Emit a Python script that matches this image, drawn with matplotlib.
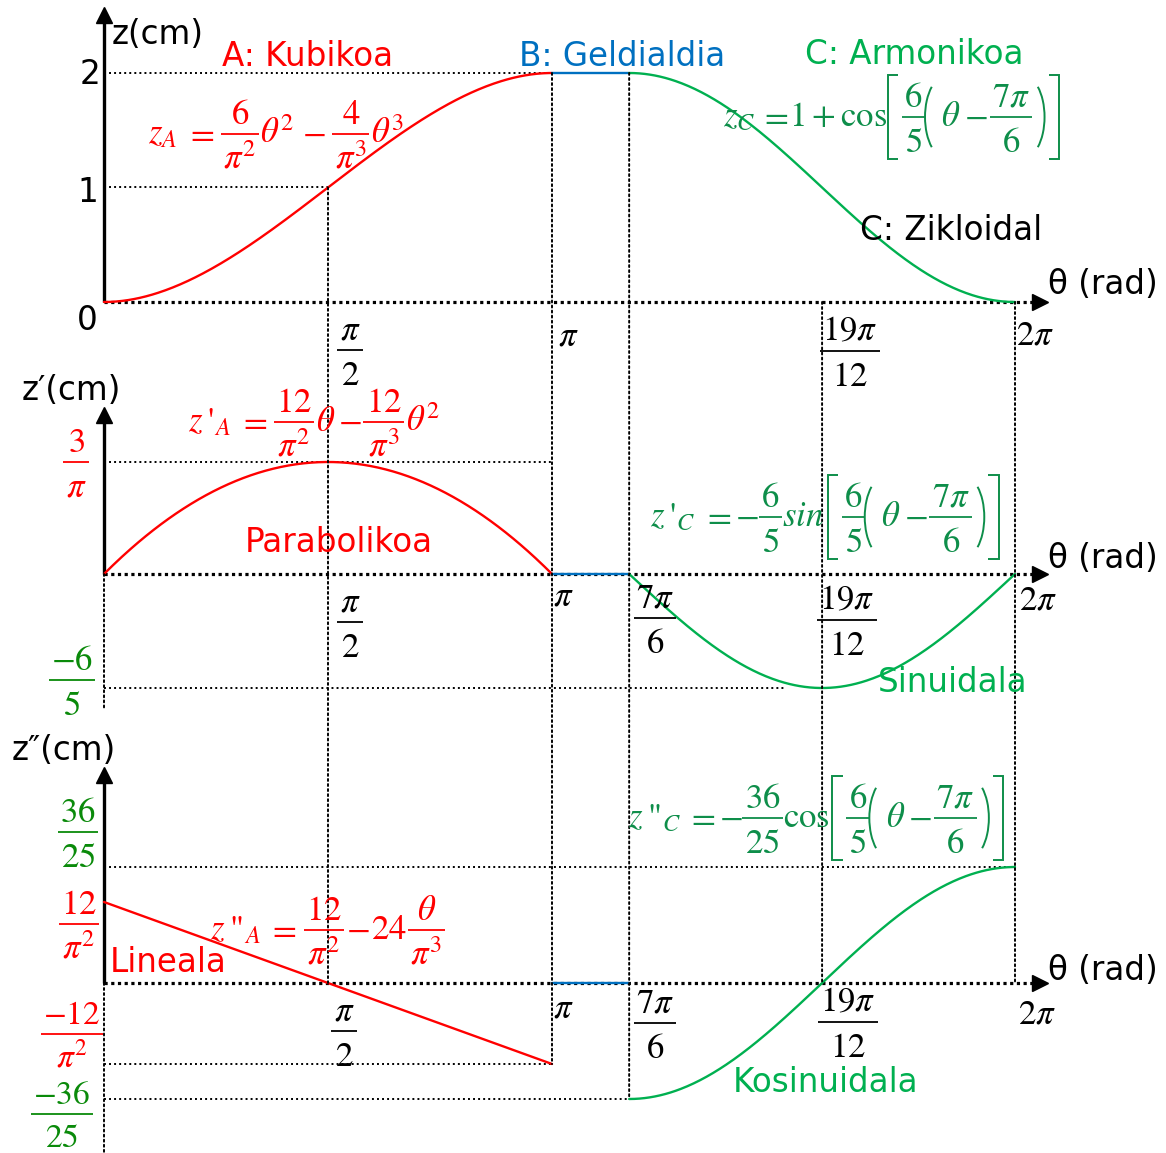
import numpy as np
import matplotlib
matplotlib.use("Agg")
import matplotlib.pyplot as plt
from matplotlib.patches import ConnectionPatch, Arc
from matplotlib.lines import Line2D
from matplotlib.transforms import IdentityTransform

plt.rcParams["font.family"] = ["DejaVu Sans"]
plt.rcParams["mathtext.fontset"] = "stix"

# ---------------------------------------------------------------- data
PI = np.pi
# cam segments (rad): A cubic rise, B dwell, C harmonic return
seg_rise = (0.0, PI)
seg_dwell = (PI, 7 * PI / 6)
seg_return = (7 * PI / 6, 2 * PI)
lift = 2.0  # cm

theta_ticks = [PI / 2, PI, 7 * PI / 6, 19 * PI / 12, 2 * PI]
z_ticks = [0, 1, 2]
zp_marks = [3 / PI, -6 / 5]
zpp_marks = [36 / 25, 12 / PI ** 2, -12 / PI ** 2, -36 / 25]


def z_A(t):
    return 6 / PI ** 2 * t ** 2 - 4 / PI ** 3 * t ** 3


def zp_A(t):
    return 12 / PI ** 2 * t - 12 / PI ** 3 * t ** 2


def zpp_A(t):
    return 12 / PI ** 2 - 24 * t / PI ** 3


def z_C(t):
    return 1 + np.cos(6 / 5 * (t - 7 * PI / 6))


def zp_C(t):
    return -6 / 5 * np.sin(6 / 5 * (t - 7 * PI / 6))


def zpp_C(t):
    return -36 / 25 * np.cos(6 / 5 * (t - 7 * PI / 6))


th_A = np.linspace(*seg_rise, 300)
th_B = np.array(seg_dwell)
th_C = np.linspace(*seg_return, 300)

# ---------------------------------------------------------------- style
RED = "#FF0000"
BLUE = "#0070C0"
GREEN = "#00B050"
GREEN_EQ = "#0E8E4A"
GREEN_TK = "#0A8A0A"
W, H = 1166, 1153
X0, X1 = 104, 1015
SANS = 23.5
MATH = 25

fig = plt.figure(figsize=(W / 100, H / 100), dpi=100)
renderer = fig.canvas.get_renderer()
IDT = IdentityTransform()


# piecewise-linear theta axis: rise part and dwell/return part
def fwd(t):
    t = np.asarray(t, float)
    return np.where(t <= PI, t * 448 / PI, 448 + (t - PI) * 463 / PI)


def inv(u):
    u = np.asarray(u, float)
    return np.where(u <= 448, u * PI / 448, PI + (u - 448) * PI / 463)


def panel(top_px, bot_px, ylim):
    ax = fig.add_axes([X0 / W, 1 - bot_px / H, (X1 - X0) / W, (bot_px - top_px) / H])
    ax.set_xscale("function", functions=(fwd, inv))
    ax.set_xlim(0, 2 * PI)
    ax.set_ylim(*ylim)
    ax.axis("off")
    return ax


def twin(ax, px_a, v_a, px_b, v_b, top_px, bot_px):
    k = (v_a - v_b) / (px_a - px_b)
    tw = ax.twinx()
    tw.set_ylim(v_a + k * (bot_px - px_a), v_a + k * (top_px - px_a))
    tw.axis("off")
    return tw


def xpx(ax, px):
    return ax.transData.inverted().transform((px, 0))[0]


def ypx(ax, py):
    return ax.transData.inverted().transform((0, H - py))[1]


# ---------------------------------------------------------------- text helpers (pixel layout)
def em(size):
    return size * 100 / 72


def put(x, y, s, color="black", size=SANS, ha="left", va="center", **kw):
    return fig.text(x / W, 1 - y / H, s, color=color, fontsize=size, ha=ha, va=va, **kw)


def wid(t):
    return t.get_window_extent(renderer).width


def seg_px(xs, ys, color, lw=1.3):
    fig.add_artist(Line2D(xs, [H - v for v in ys], transform=IDT, color=color, lw=lw,
                          solid_capstyle="butt", solid_joinstyle="miter"))


def frac(x, bar_y, num, den, color, size=MATH, center=False):
    e = em(size)
    tn = put(0, 0, f"${num}$", color, size, ha="center", va="baseline")
    td = put(0, 0, f"${den}$", color, size, ha="center", va="baseline")
    w = max(wid(tn), wid(td)) + 0.14 * e
    cx = x if center else x + w / 2
    tn.set_position((cx / W, 1 - (bar_y - 0.30 * e) / H))
    td.set_position((cx / W, 1 - (bar_y + 1.0 * e) / H))
    seg_px([cx - w / 2, cx + w / 2], [bar_y, bar_y], color)
    return w


def delim(x, bar_y, kind, color, size):
    e = em(size)
    if kind in "[]":
        h, w = 1.2 * e, 0.3 * e
        top, bot = bar_y - h, bar_y + h
        xs = [x + w, x, x, x + w] if kind == "[" else [x, x + w, x + w, x]
        seg_px(xs, [top, top, bot, bot], color, lw=1.4)
        return w + 0.1 * e
    a, b = 0.6 * e, 1.18 * e
    if kind == "(":
        xc, t1, t2 = x + a, 115, 245
    else:
        xc, t1, t2 = x - 0.42 * a, -65, 65
    fig.add_artist(Arc((xc, H - bar_y), 2 * a, 2 * b, theta1=t1, theta2=t2,
                       transform=IDT, color=color, lw=1.4))
    return 0.58 * a + 0.12 * e


def formula(x, bar_y, parts, color, size=MATH):
    e = em(size)
    cur = x
    base = bar_y + 0.26 * e
    for p in parts:
        k = p[0]
        if k == "t":
            cur += wid(put(cur, base, f"${p[1]}$", color, size, va="baseline"))
        elif k == "r":
            cur += wid(put(cur, base, p[1], color, size, va="baseline", family="STIXGeneral"))
        elif k == "f":
            cur += frac(cur, bar_y, p[1], p[2], color, size)
        elif k == "g":
            cur += p[1] * e
        else:
            cur += delim(cur, bar_y, k, color, size)


# shared tail of the return-phase formulas: [6/5 (theta - 7pi/6)]
ARG = [("[",), ("f", "6", "5"), ("(",), ("t", r"\theta"), ("g", 0.1), ("t", "-"), ("g", 0.06),
       ("f", r"7\pi", "6"), (")",), ("]",)]

DOT = dict(color="black", lw=1.4, ls=(0, (1, 1.6)), clip_on=False)
AXDOT = dict(color="black", lw=2.3, ls=(0, (1, 1.1)), clip_on=False)
CURVE = dict(lw=1.7, clip_on=False, solid_capstyle="round")


def axes_arrows(ax, tip_py):
    # vertical solid axis with arrow head, horizontal dotted theta axis
    ytop = ypx(ax, tip_py + 8)
    ax.plot([0, 0], [0, ytop], color="black", lw=2.4, clip_on=False, solid_capstyle="butt")
    ax.plot([0], [ytop], marker="^", ms=11, color="black", clip_on=False)
    ax.plot([0, xpx(ax, 1034)], [0, 0], **AXDOT)
    ax.plot([xpx(ax, 1040)], [0], marker=">", ms=11, color="black", clip_on=False)


def vline(x, axA, yA, axB, yB):
    fig.add_artist(ConnectionPatch(xyA=(x, yA), coordsA=axA.transData,
                                   xyB=(x, yB), coordsB=axB.transData,
                                   color="black", lw=1.4, ls=(0, (1, 1.6))))


# ---------------------------------------------------------------- panels
ax1 = panel(73, 302, (0, lift))
ax2 = panel(462, 574, (0, zp_marks[0]))
ax2g = twin(ax2, 574, 0, 688, zp_marks[1], 462, 574)
ax3 = panel(902, 1064, (zpp_marks[2], zpp_marks[1]))
ax3g = twin(ax3, 867, zpp_marks[0], 1099, zpp_marks[3], 902, 1064)

# guide lines
ax1.plot([0, PI], [2, 2], **DOT)
ax1.plot([0, PI / 2], [1, 1], **DOT)
ax2.plot([0, PI], [zp_marks[0]] * 2, **DOT)
ax2g.plot([0, 3 * PI / 2], [zp_marks[1]] * 2, **DOT)
ax3g.plot([0, 2 * PI], [zpp_marks[0]] * 2, **DOT)
ax3.plot([0, PI], [zpp_marks[2]] * 2, **DOT)
ax3g.plot([0, 7 * PI / 6], [zpp_marks[3]] * 2, **DOT)

vline(theta_ticks[0], ax1, 1, ax3, 0)
vline(theta_ticks[1], ax1, 2, ax3, zpp_marks[2])
vline(theta_ticks[2], ax1, 2, ax3g, zpp_marks[3])
vline(theta_ticks[3], ax1, 0, ax3, 0)
vline(theta_ticks[4], ax1, 0, ax3, 0)
vline(0, ax2, 0, ax2, ypx(ax2, 708))
vline(0, ax3, 0, ax3, ypx(ax3, 1160))

axes_arrows(ax1, 7)
axes_arrows(ax2, 407)
axes_arrows(ax3, 767)

# curves
ax1.plot(th_A, z_A(th_A), color=RED, **CURVE)
ax1.plot(th_B, [lift, lift], color=BLUE, **CURVE)
ax1.plot(th_C, z_C(th_C), color=GREEN, **CURVE)

ax2.plot(th_A, zp_A(th_A), color=RED, **CURVE)
ax2.plot(th_B, [0, 0], color=BLUE, **CURVE)
ax2g.plot(th_C, zp_C(th_C), color=GREEN, **CURVE)

ax3.plot(th_A, zpp_A(th_A), color=RED, **CURVE)
ax3.plot(th_B, [0, 0], color=BLUE, **CURVE)
ax3g.plot(th_C, zpp_C(th_C), color=GREEN, **CURVE)

# ---------------------------------------------------------------- texts
# panel 1: position z
put(112, 35, "z(cm)")
put(100, 75, "2", ha="right")
put(98, 193, "1", ha="right")
put(98, 320, "0", ha="right")
put(222, 57, "A: Kubikoa", color=RED)
put(519, 57, "B: Geldialdia", color=BLUE)
put(805, 55, "C: Armonikoa", color=GREEN)
put(860, 231, "C: Zikloidal")
put(1048, 285, "θ (rad)")
formula(148, 134, [("t", "z_A"), ("g", 0.22), ("t", "="), ("g", 0.2), ("f", "6", r"\pi^2"),
                   ("g", 0.04), ("t", r"\theta^2"), ("g", 0.2), ("t", "-"), ("g", 0.2),
                   ("f", "4", r"\pi^3"), ("g", 0.04), ("t", r"\theta^3")], RED)
formula(723, 117, [("t", "z_C"), ("g", 0.1), ("t", "="), ("g", 0.02), ("t", r"1+\cos"),
                   ("g", 0.04)] + ARG, GREEN_EQ)
frac(350, 350, r"\pi", "2", "black", center=True)
put(568, 345, r"$\pi$", size=MATH, ha="center", va="baseline")
frac(850, 351, r"19\pi", "12", "black", center=True)
put(1035, 344, r"$2\pi$", size=MATH, ha="center", va="baseline")

# panel 2: velocity z'
put(22, 390, "z′(cm)")
frac(76, 462, "3", r"\pi", RED, center=True)
frac(72, 680, "-6", "5", GREEN_TK, center=True)
put(245, 543, "Parabolikoa", color=RED)
formula(188, 422, [("t", "z"), ("g", 0.12), ("r", "'"), ("t", "{}_A"), ("g", 0.2), ("t", "="),
                   ("g", 0.2), ("f", "12", r"\pi^2"), ("g", 0.04), ("t", r"\theta"),
                   ("g", 0.08), ("t", "-"), ("g", 0.06),
                   ("f", "12", r"\pi^3"), ("g", 0.04), ("t", r"\theta^2")], RED)
formula(650, 517, [("t", "z"), ("g", 0.12), ("r", "'"), ("t", "{}_C"), ("g", 0.2), ("t", "="),
                   ("g", 0.12), ("t", "-"), ("f", "6", "5"), ("t", "sin"), ("g", 0.12)] + ARG,
        GREEN_EQ)
put(878, 683, "Sinuidala", color=GREEN)
put(1048, 558, "θ (rad)")
frac(350, 622, r"\pi", "2", "black", center=True)
put(563, 605, r"$\pi$", size=MATH, ha="center", va="baseline")
frac(655, 618, r"7\pi", "6", "black", center=True)
frac(847, 620, r"19\pi", "12", "black", center=True)
put(1038, 610, r"$2\pi$", size=MATH, ha="center", va="baseline")

# panel 3: acceleration z''
put(12, 750, "z″(cm)")
frac(78, 832, "36", "25", GREEN_TK, center=True)
frac(79, 924, "12", r"\pi^2", RED, center=True)
frac(72, 1034, "-12", r"\pi^2", RED, size=24, center=True)
frac(62, 1114, "-36", "25", GREEN_TK, size=24, center=True)
put(110, 963, "Lineala", color=RED)
formula(210, 930, [("t", "z"), ("g", 0.12), ("r", '"'), ("t", "{}_A"), ("g", 0.2), ("t", "="),
                   ("g", 0.2), ("f", "12", r"\pi^2"), ("g", 0.04), ("t", "-"), ("g", 0.04),
                   ("t", "24"), ("g", 0.04), ("f", r"\theta", r"\pi^3")], RED)
formula(628, 818, [("t", "z"), ("g", 0.12), ("r", '"'), ("t", "{}_C"), ("g", 0.15), ("t", "="),
                   ("g", 0.1), ("t", "-"), ("f", "36", "25"), ("t", r"\cos"), ("g", 0.08)] + ARG,
        GREEN_EQ)
put(733, 1083, "Kosinuidala", color=GREEN)
put(1048, 970, "θ (rad)")
frac(344, 1031, r"\pi", "2", "black", center=True)
put(563, 1018, r"$\pi$", size=MATH, ha="center", va="baseline")
frac(655, 1023, r"7\pi", "6", "black", center=True)
frac(848, 1022, r"19\pi", "12", "black", center=True)
put(1037, 1024, r"$2\pi$", size=MATH, ha="center", va="baseline")

fig.savefig("out.png", dpi=100, facecolor="white")
